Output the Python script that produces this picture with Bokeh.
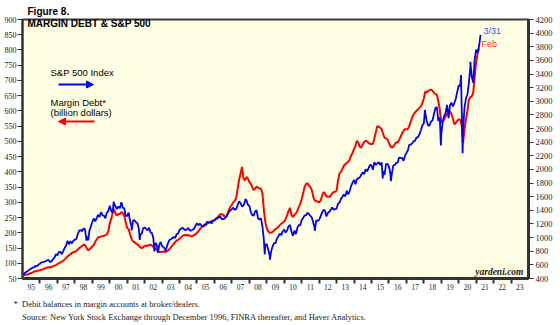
import datetime
from bokeh.plotting import figure
from bokeh.models import (Range1d, LinearAxis, FixedTicker, CustomJSTickFormatter,
                          Label, Arrow, NormalHead, Title)
from bokeh.embed import file_html
from bokeh.resources import INLINE

# ---------------- data ----------------
# S&P 500 month-end closes, Dec 1994 .. Mar 2021
sp500_monthly = [
    459,
    470, 487, 501, 515, 533, 545, 562, 562, 584, 582, 605, 616,            # 1995
    636, 640, 646, 654, 669, 671, 640, 652, 687, 705, 757, 741,            # 1996
    786, 791, 757, 801, 848, 885, 954, 899, 947, 915, 955, 970,            # 1997
    980, 1049, 1102, 1112, 1091, 1134, 1121, 957, 1017, 1099, 1164, 1229,  # 1998
    1280, 1238, 1286, 1335, 1302, 1373, 1329, 1320, 1283, 1363, 1389, 1469,  # 1999
    1394, 1366, 1499, 1452, 1421, 1455, 1431, 1518, 1437, 1429, 1315, 1320,  # 2000
    1366, 1240, 1160, 1249, 1256, 1224, 1211, 1134, 1041, 1060, 1139, 1148,  # 2001
    1130, 1107, 1147, 1077, 1067, 990, 912, 916, 815, 886, 936, 880,       # 2002
    856, 841, 848, 917, 964, 975, 990, 1008, 996, 1051, 1058, 1112,        # 2003
    1131, 1145, 1126, 1107, 1121, 1141, 1102, 1104, 1115, 1130, 1174, 1212,  # 2004
    1181, 1204, 1181, 1157, 1192, 1191, 1234, 1220, 1229, 1207, 1249, 1248,  # 2005
    1280, 1281, 1295, 1311, 1270, 1270, 1277, 1304, 1336, 1378, 1401, 1418,  # 2006
    1438, 1407, 1421, 1482, 1531, 1503, 1455, 1474, 1527, 1549, 1481, 1468,  # 2007
    1379, 1331, 1323, 1386, 1400, 1280, 1267, 1283, 1166, 969, 896, 903,   # 2008
    826, 735, 798, 873, 919, 919, 987, 1021, 1057, 1036, 1096, 1115,       # 2009
    1074, 1104, 1169, 1187, 1089, 1031, 1102, 1049, 1141, 1183, 1181, 1258,  # 2010
    1286, 1327, 1326, 1364, 1345, 1321, 1292, 1219, 1131, 1253, 1247, 1258,  # 2011
    1312, 1366, 1408, 1398, 1310, 1362, 1379, 1407, 1441, 1412, 1416, 1426,  # 2012
    1498, 1515, 1569, 1598, 1631, 1606, 1686, 1633, 1682, 1757, 1806, 1848,  # 2013
    1783, 1859, 1872, 1884, 1924, 1960, 1931, 2003, 1972, 2018, 2068, 2059,  # 2014
    1995, 2105, 2068, 2086, 2107, 2063, 2104, 1972, 1920, 2079, 2080, 2044,  # 2015
    1940, 1932, 2060, 2065, 2097, 2099, 2174, 2171, 2168, 2126, 2199, 2239,  # 2016
    2279, 2364, 2363, 2384, 2412, 2423, 2470, 2472, 2519, 2575, 2648, 2674,  # 2017
    2824, 2714, 2641, 2648, 2705, 2718, 2816, 2902, 2914, 2712, 2760, 2507,  # 2018
    2704, 2784, 2834, 2946, 2752, 2942, 2980, 2926, 2977, 3038, 3141, 3231,  # 2019
    3226, 2954, 2585, 2912, 3044, 3100, 3271, 3500, 3363, 3270, 3622, 3756,  # 2020
    3714, 3811, 3973,                                                      # 2021
]
# intra-month extremes of the S&P 500 index
sp500_extreme_dates = ["1998-10-08", "2000-03-24", "2001-04-04", "2001-09-21",
                       "2002-07-23", "2002-10-09", "2003-03-11", "2007-10-09",
                       "2008-11-20", "2009-03-09", "2010-07-02", "2011-10-03",
                       "2015-08-25", "2016-02-11", "2018-01-26", "2018-12-24",
                       "2020-02-19", "2020-03-23", "2020-09-02"]
sp500_extremes = [959, 1527, 1103, 966, 797, 777, 800, 1565, 752, 677, 1023, 1099,
                  1867, 1829, 2873, 2351, 3386, 2237, 3580]

# Margin debt (billion dollars), month-end, Dec 1994 .. Feb 2021
margin_debt = [
    61,
    61, 62, 63, 64, 66, 68, 70, 72, 74, 75, 76, 77,            # 1995
    79, 80, 82, 84, 86, 87, 87, 88, 90, 92, 94, 97,            # 1996
    100, 103, 105, 108, 112, 117, 122, 126, 130, 134, 136, 137,  # 1997
    140, 145, 150, 153, 157, 161, 160, 150, 143, 145, 150, 155,  # 1998
    160, 170, 178, 185, 186, 188, 189, 190, 192, 195, 205, 230,  # 1999
    245, 265, 278, 262, 256, 262, 262, 268, 265, 255, 235, 215,  # 2000
    212, 195, 180, 172, 170, 165, 162, 158, 152, 150, 153, 156,  # 2001
    158, 157, 160, 161, 158, 154, 148, 145, 140, 137, 137, 138,  # 2002
    138, 137, 139, 142, 146, 152, 158, 164, 170, 174, 177, 180,  # 2003
    185, 190, 192, 193, 191, 193, 190, 188, 190, 192, 195, 200,  # 2004
    205, 212, 218, 221, 222, 225, 230, 233, 236, 238, 240, 242,  # 2005
    245, 250, 255, 260, 262, 258, 254, 252, 262, 275, 286, 292,  # 2006
    300, 305, 315, 345, 375, 395, 416, 378, 372, 383, 378, 367,  # 2007
    360, 350, 340, 345, 352, 348, 345, 345, 330, 275, 235, 215,  # 2008
    205, 200, 200, 203, 208, 212, 215, 220, 225, 230, 233, 237,  # 2009
    245, 258, 272, 282, 258, 252, 258, 263, 272, 285, 295, 310,  # 2010
    330, 350, 360, 362, 355, 350, 340, 318, 305, 305, 302, 300,  # 2011
    305, 320, 334, 330, 320, 318, 318, 322, 330, 334, 335, 338,  # 2012
    370, 395, 400, 410, 420, 425, 430, 432, 440, 453, 462, 475,  # 2013
    485, 502, 495, 482, 480, 490, 498, 502, 500, 495, 492, 491,  # 2014
    491, 510, 530, 550, 548, 545, 540, 525, 512, 510, 507, 495,  # 2015
    485, 480, 482, 490, 497, 495, 505, 515, 525, 534, 540, 540,  # 2016
    540, 550, 565, 578, 589, 595, 600, 605, 610, 615, 625, 640,  # 2017
    664, 660, 665, 668, 670, 666, 660, 655, 653, 632, 605, 562,  # 2018
    565, 572, 583, 590, 595, 599, 590, 575, 556, 560, 568, 572,  # 2019
    572, 555, 495, 540, 572, 600, 637, 645, 648, 660, 713, 760,  # 2020
    789, 805,                                                    # 2021
]

year_labels = ["95", "96", "97", "98", "99", "00", "01", "02", "03", "04", "05", "06",
               "07", "08", "09", "10", "11", "12", "13", "14", "15", "16", "17", "18",
               "19", "20", "21", "22", "23"]
left_ticks = list(range(50, 901, 50))
right_ticks = list(range(400, 4201, 200))

FIRST_YEAR = 1995
LAST_YEAR = 2024


def frac_year(s):
    d = datetime.date.fromisoformat(s)
    start = datetime.date(d.year, 1, 1)
    n = (datetime.date(d.year + 1, 1, 1) - start).days
    return d.year + (d - start).days / n


# month-end positions (Dec 1994 close sits at the start of 1995)
md_x = [FIRST_YEAR + k / 12 for k in range(len(margin_debt))]
sp_pts = [(FIRST_YEAR + k / 12, v) for k, v in enumerate(sp500_monthly)]
sp_pts += [(frac_year(d), v) for d, v in zip(sp500_extreme_dates, sp500_extremes)]
sp_pts.sort()
sp_x = [a for a, b in sp_pts]
sp_y = [b for a, b in sp_pts]

# ---------------- figure ----------------
SANS = "Liberation Sans"
SERIF = "Liberation Serif"
NB = "\u00a0"

p = figure(width=560, height=325, output_backend="svg", toolbar_location=None,
           x_range=Range1d(FIRST_YEAR, LAST_YEAR), y_range=Range1d(50, 900),
           x_axis_type=None, y_axis_type=None,
           min_border_left=22, min_border_right=32, min_border_top=19, min_border_bottom=44)
p.extra_y_ranges = {"sp": Range1d(400, 4200)}
p.background_fill_color = "#FFFFE4"
p.border_fill_color = "white"
p.outline_line_color = "#3a3a3a"
p.outline_line_width = 2
p.xgrid.visible = False
p.ygrid.visible = False

AX = "#333333"

# x axis: labels centred in each year, tick marks at year boundaries
xaxis = LinearAxis(
    ticker=FixedTicker(ticks=[FIRST_YEAR + i + 0.5 for i in range(len(year_labels))],
                       minor_ticks=[FIRST_YEAR + i for i in range(1, len(year_labels))]),
    formatter=CustomJSTickFormatter(
        args=dict(labels=year_labels, first=FIRST_YEAR),
        code="return labels[Math.floor(tick) - first];"))
xaxis.major_tick_out = 0
xaxis.major_tick_in = 0
xaxis.minor_tick_out = 5
xaxis.minor_tick_in = 0
xaxis.minor_tick_line_color = AX
xaxis.minor_tick_line_width = 2
xaxis.axis_line_color = AX
xaxis.axis_line_width = 3
xaxis.major_label_standoff = 0
xaxis.major_label_text_font = SERIF
xaxis.major_label_text_font_size = "7.5px"
xaxis.major_label_text_color = "#222222"
p.add_layout(xaxis, "below")

yleft = LinearAxis(ticker=FixedTicker(ticks=left_ticks))
yleft.major_tick_out = 5
yleft.major_tick_in = 0
yleft.minor_tick_out = 0
yleft.minor_tick_in = 0
yleft.major_tick_line_color = AX
yleft.axis_line_color = AX
yleft.axis_line_width = 2
yleft.major_label_standoff = 1
yleft.major_label_text_font = SERIF
yleft.major_label_text_font_size = "8px"
yleft.major_label_text_color = "#222222"
p.add_layout(yleft, "left")

yright = LinearAxis(y_range_name="sp", ticker=FixedTicker(ticks=right_ticks))
yright.major_tick_out = 5
yright.major_tick_in = 0
yright.minor_tick_out = 0
yright.minor_tick_in = 0
yright.major_tick_line_color = AX
yright.axis_line_color = AX
yright.axis_line_width = 3
yright.major_label_standoff = 2
yright.major_label_text_font = SERIF
yright.major_label_text_font_size = "8.5px"
yright.major_label_text_color = "#222222"
p.add_layout(yright, "right")

# titles outside the frame
p.title.visible = False
p.add_layout(Title(text="Figure 8.", align="left", offset=5, standoff=6,
                   text_font=SANS, text_font_size="10px", text_font_style="bold",
                   text_color="#000000"), "above")
footnote = ("*" + NB * 2 + "Debit balances in margin accounts at broker/dealers.\n"
            + NB * 4 + "Source: New York Stock Exchange through December 1996, "
            "FINRA thereafter, and Haver Analytics.")
p.add_layout(Title(text=footnote, align="left", offset=-9, standoff=8,
                   text_font=SERIF, text_font_size="8.5px", text_font_style="normal",
                   text_color="#222222", text_line_height=1.3), "below")

# series
p.line(md_x, margin_debt, line_color="#FF0000", line_width=2)
p.line(sp_x, sp_y, y_range_name="sp", line_color="#0000FF", line_width=1.8)

# ---------------- annotations (screen units: from frame bottom-left) ----------------
def lab(x, y, text, size, font=SANS, style="normal", color="#000000", align="left"):
    p.add_layout(Label(x=x, y=y, x_units="screen", y_units="screen", text=text,
                       text_font=font, text_font_size=size, text_font_style=style,
                       text_color=color, text_align=align, text_baseline="middle"))


lab(5, 255, "MARGIN DEBT & S&P 500", "10px", style="bold")
lab(28, 206, "S&P 500 Index", "9.5px")
lab(28, 176, "Margin Debt*", "9.5px")
lab(28, 166, "(billion dollars)", "9.5px")
lab(461, 248, "3/31", "9px", color="#4a4aff")
lab(459, 235, "Feb", "9px", color="#ff2a2a")
lab(501, 7, "yardeni.com", "9.5px", font=SERIF, style="bold italic", color="#222222",
    align="right")

p.add_layout(Arrow(x_start=36, y_start=194, x_end=71, y_end=194,
                   start_units="screen", end_units="screen",
                   line_color="#0000FF", line_width=2,
                   end=NormalHead(size=7, fill_color="#0000FF", line_color="#0000FF")))
p.add_layout(Arrow(x_start=72, y_start=157, x_end=36, y_end=157,
                   start_units="screen", end_units="screen",
                   line_color="#FF0000", line_width=2,
                   end=NormalHead(size=7, fill_color="#FF0000", line_color="#FF0000")))

open("out.html", "w").write(file_html(p, INLINE))
